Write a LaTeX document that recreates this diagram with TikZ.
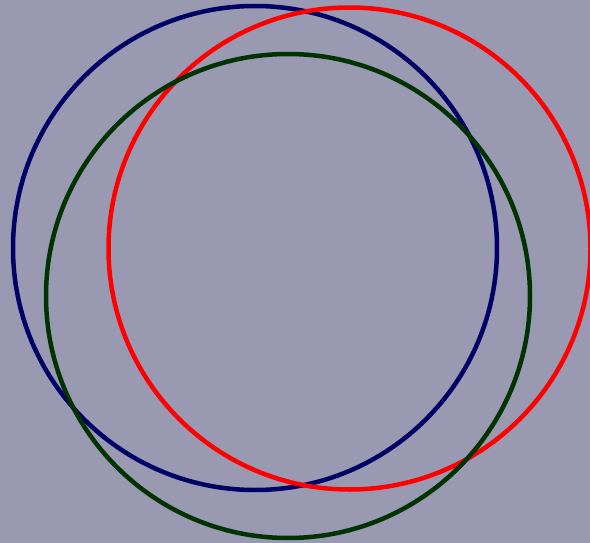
\documentclass[tikz,border=0pt]{standalone}
\usepackage{tikz}
\usetikzlibrary{positioning}
\usepackage{xcolor}
\definecolor{slatebg}{RGB}{153,153,178}
\definecolor{navyring}{RGB}{0,0,102}
\definecolor{forestring}{RGB}{0,51,0}
\definecolor{redring}{RGB}{255,0,0}

\begin{document}
\begin{tikzpicture}[x=1pt,y=-1pt,
  ring/.style={circle,draw,line width=4.5pt,inner sep=0pt,minimum size=484pt}]
% Background
\fill[slatebg] (0,0) rectangle (590,543);
\useasboundingbox (0,0) rectangle (590,543);
% Rings
\node[ring,draw=navyring] (blue) at (255,248) {};
\node[ring,draw=redring,minimum size=482pt] (red) at (349.5,248.5) {};
\node[ring,draw=forestring] (green) at (288,296) {};
\end{tikzpicture}
\end{document}
